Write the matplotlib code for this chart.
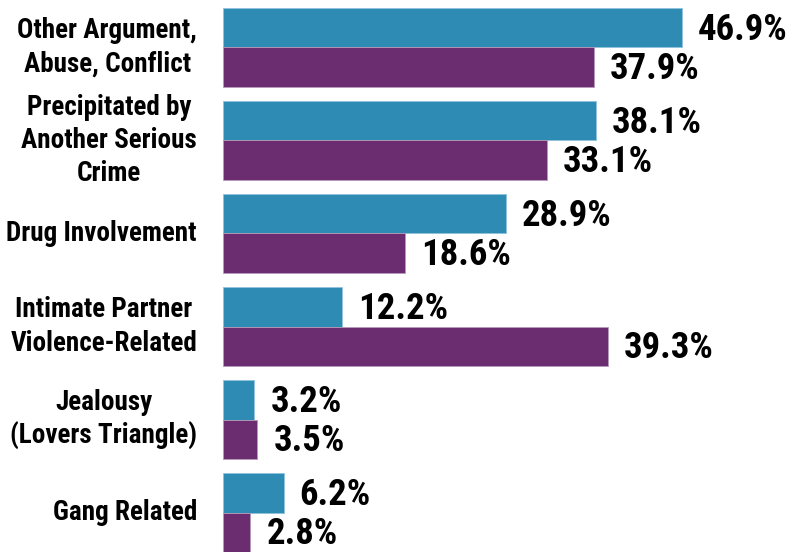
import matplotlib
matplotlib.use("Agg")
from matplotlib import pyplot as plt
from matplotlib import font_manager
import numpy as np

# data
categories = ["Other Argument,\nAbuse, Conflict",
              "Precipitated by\nAnother Serious\nCrime",
              "Drug Involvement",
              "Intimate Partner\nViolence-Related",
              "Jealousy\n(Lovers Triangle)",
              "Gang Related"]
series_a = [46.9, 38.1, 28.9, 12.2, 3.2, 6.2]
series_b = [37.9, 33.1, 18.6, 39.3, 3.5, 2.8]

blue = "#2E8BB4"
purple = "#6B2D70"

# pick a narrow bold font if one is installed
names = {f.name for f in font_manager.fontManager.ttflist}
font = "DejaVu Sans"
for cand in ["Roboto Condensed", "Liberation Sans Narrow", "DejaVu Sans Condensed", "Arial Narrow"]:
    if cand in names:
        font = cand
        break
plt.rcParams['font.family'] = [font, 'DejaVu Sans']

fig = plt.figure(figsize=(7.89, 5.52), dpi=100)
ax = fig.add_axes([223 / 789, 0, 566 / 789, 1 - 8 / 552])

h = 0.4225
y = np.arange(len(categories))
bars_a = ax.barh(y - h / 2, series_a, height=h, color=blue, edgecolor="#8fc3dc", linewidth=0.6)
bars_b = ax.barh(y + h / 2, series_b, height=h, color=purple, edgecolor="#b69abb", linewidth=0.6)

ax.set_xlim(0, 566 / 9.79)
ax.set_ylim(len(categories) - 1 + h, -h)

for bars in (bars_a, bars_b):
    for b in bars:
        w = b.get_width()
        ax.annotate(f"{w:.1f}%", (w, b.get_y() + b.get_height() / 2),
                    xytext=(16, -2), textcoords="offset pixels",
                    va="center", ha="left", fontsize=26.5, fontweight="bold")

for yi, lab in zip(y, categories):
    ax.annotate(lab, (0, yi), xytext=(-26, 0), textcoords="offset pixels",
                ha="right", va="center", multialignment="center",
                fontsize=19.5, fontweight="bold", linespacing=1.3)

ax.axis("off")
fig.savefig("out.png", dpi=100)
